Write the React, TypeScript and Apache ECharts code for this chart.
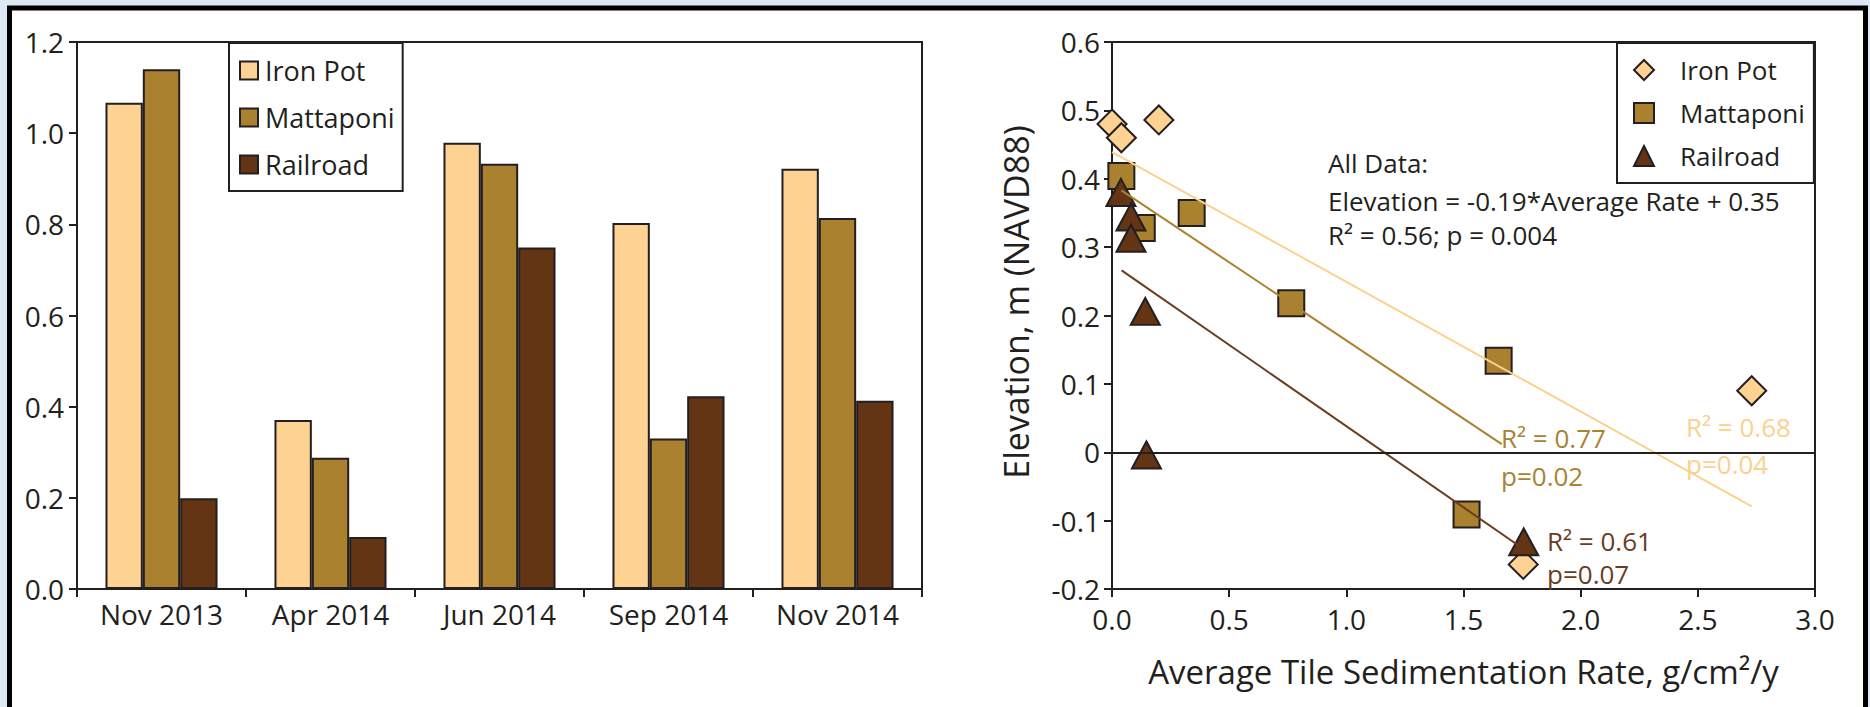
import React, { useEffect, useRef } from "react";
import * as echarts from "echarts";

// ---------- data ----------
const months = ["Nov 2013", "Apr 2014", "Jun 2014", "Sep 2014", "Nov 2014"];
const ironPotBars = [1.067, 0.371, 0.979, 0.803, 0.922];
const mattaponiBars = [1.14, 0.288, 0.933, 0.33, 0.814];
const railroadBars = [0.199, 0.114, 0.749, 0.423, 0.413];

const ironPotPoints = [
  [0.0, 0.48],
  [0.04, 0.46],
  [0.2, 0.486],
  [2.73, 0.09],
  [1.755, -0.164],
];
const mattaponiPoints = [
  [0.04, 0.404],
  [0.127, 0.328],
  [0.34, 0.35],
  [0.765, 0.218],
  [1.65, 0.134],
  [1.513, -0.091],
];
const railroadPoints = [
  [0.038, 0.38],
  [0.081, 0.344],
  [0.081, 0.313],
  [0.142, 0.206],
  [0.147, -0.004],
  [1.757, -0.131],
];

const ironPotFit = [
  [0.0, 0.439],
  [2.73, -0.079],
];
const mattaponiFit = [
  [0.04, 0.383],
  [1.663, 0.012],
];
const railroadFit = [
  [0.041, 0.266],
  [1.733, -0.136],
];

const seriesNames = ["Iron Pot", "Mattaponi", "Railroad"];
const scatterNames = ["Iron Pot ", "Mattaponi ", "Railroad "];

// ---------- styles ----------
const FONT = "'Open Sans', sans-serif";
const INK = "#231f20";
const C_IRON = "#fdd293";
const C_MATT = "#aa812f";
const C_RAIL = "#633514";
const C_IRON_LINE = "#fcd08f";
const C_MATT_LINE = "#a98232";
const C_RAIL_LINE = "#6b3c1d";

export default function App() {
  const ref = useRef<HTMLDivElement>(null);

  useEffect(() => {
    if (!ref.current) return;
    const chart = echarts.init(ref.current, null, { renderer: "svg" });

    const axisLine = { show: true, onZero: false, lineStyle: { color: INK, width: 2 } };
    const axisTick = { show: true, inside: false, length: 8, lineStyle: { color: INK, width: 2 } };
    const label = { fontSize: 28, color: INK, fontFamily: FONT };

    const txt = (text: string, x: number, y: number, color: string, size = 26) => ({
      type: "text",
      x,
      y,
      silent: true,
      z: 50,
      style: {
        text,
        fill: color,
        fontSize: size,
        fontFamily: FONT,
        align: "left",
        verticalAlign: "middle",
      },
    });

    const option: any = {
      animation: false,
      textStyle: { fontFamily: FONT, color: INK },
      grid: [
        { left: 77, top: 42, width: 845, height: 547, show: true, borderColor: INK, borderWidth: 2, containLabel: false },
        { left: 1112, top: 42, width: 703, height: 547, show: true, borderColor: INK, borderWidth: 2, containLabel: false },
      ],
      xAxis: [
        {
          type: "category",
          gridIndex: 0,
          data: months,
          axisLine,
          axisTick,
          axisLabel: { ...label, margin: 11 },
          splitLine: { show: false },
        },
        {
          type: "value",
          gridIndex: 1,
          min: 0,
          max: 3,
          interval: 0.5,
          axisLine,
          axisTick,
          splitLine: { show: false },
          axisLabel: { ...label, margin: 16, formatter: (v: number) => v.toFixed(1) },
          name: "Average Tile Sedimentation Rate, g/cm²/y",
          nameLocation: "middle",
          nameGap: 66,
          nameTextStyle: { fontSize: 33, color: INK, fontFamily: FONT },
        },
      ],
      yAxis: [
        {
          type: "value",
          gridIndex: 0,
          min: 0,
          max: 1.2,
          interval: 0.2,
          axisLine,
          axisTick,
          splitLine: { show: false },
          axisLabel: { ...label, margin: 13, formatter: (v: number) => v.toFixed(1) },
        },
        {
          type: "value",
          gridIndex: 1,
          min: -0.2,
          max: 0.6,
          interval: 0.1,
          axisLine,
          axisTick,
          splitLine: { show: false },
          axisLabel: {
            ...label,
            margin: 12,
            formatter: (v: number) => String(Math.round(v * 10) / 10),
          },
        },
      ],
      legend: [
        {
          orient: "vertical",
          left: 229,
          top: 43,
          padding: [14, 8, 13, 10],
          itemWidth: 18,
          itemHeight: 18,
          itemGap: 20,
          icon: "rect",
          borderColor: INK,
          borderWidth: 2,
          backgroundColor: "#ffffff",
          selectedMode: false,
          data: seriesNames,
          textStyle: { fontSize: 27, color: INK, fontFamily: FONT, padding: [0, 0, 0, 2] },
        },
        {
          orient: "vertical",
          left: 1617,
          top: 43,
          padding: [14, 9, 14, 16],
          itemWidth: 20,
          itemHeight: 20,
          itemGap: 17,
          borderColor: INK,
          borderWidth: 2,
          backgroundColor: "#ffffff",
          selectedMode: false,
          data: scatterNames,
          formatter: (n: string) => n.trim(),
          textStyle: { fontSize: 26, color: INK, fontFamily: FONT, padding: [0, 0, 0, 21] },
        },
      ],
      series: [
        {
          name: seriesNames[0],
          type: "bar",
          xAxisIndex: 0,
          yAxisIndex: 0,
          data: ironPotBars,
          barGap: "0%",
          barCategoryGap: "33.7%",
          itemStyle: { color: C_IRON, borderColor: INK, borderWidth: 2 },
        },
        {
          name: seriesNames[1],
          type: "bar",
          xAxisIndex: 0,
          yAxisIndex: 0,
          data: mattaponiBars,
          barGap: "0%",
          barCategoryGap: "33.7%",
          itemStyle: { color: C_MATT, borderColor: INK, borderWidth: 2 },
        },
        {
          name: seriesNames[2],
          type: "bar",
          xAxisIndex: 0,
          yAxisIndex: 0,
          data: railroadBars,
          barGap: "0%",
          barCategoryGap: "33.7%",
          itemStyle: { color: C_RAIL, borderColor: INK, borderWidth: 2 },
        },
        {
          name: scatterNames[0],
          type: "scatter",
          xAxisIndex: 1,
          yAxisIndex: 1,
          data: ironPotPoints,
          symbol: "diamond",
          symbolSize: [29, 29],
          itemStyle: { color: C_IRON, borderColor: INK, borderWidth: 2, opacity: 1 },
          markLine: {
            silent: true,
            symbol: ["none", "none"],
            label: { show: false },
            lineStyle: { color: INK, width: 2, type: "solid" },
            data: [{ yAxis: 0 }],
          },
        },
        {
          name: scatterNames[1],
          type: "scatter",
          xAxisIndex: 1,
          yAxisIndex: 1,
          data: mattaponiPoints,
          symbol: "rect",
          symbolSize: [26, 26],
          itemStyle: { color: C_MATT, borderColor: INK, borderWidth: 2, opacity: 1 },
        },
        {
          name: scatterNames[2],
          type: "scatter",
          xAxisIndex: 1,
          yAxisIndex: 1,
          data: railroadPoints,
          symbol: "triangle",
          symbolSize: [29, 27],
          itemStyle: { color: C_RAIL, borderColor: INK, borderWidth: 2, opacity: 1 },
        },
        {
          name: "fit-ironpot",
          type: "line",
          xAxisIndex: 1,
          yAxisIndex: 1,
          data: ironPotFit,
          showSymbol: false,
          symbol: "none",
          lineStyle: { color: C_IRON_LINE, width: 2 },
          z: 3,
        },
        {
          name: "fit-mattaponi",
          type: "line",
          xAxisIndex: 1,
          yAxisIndex: 1,
          data: mattaponiFit,
          showSymbol: false,
          symbol: "none",
          lineStyle: { color: C_MATT_LINE, width: 2 },
          z: 3,
        },
        {
          name: "fit-railroad",
          type: "line",
          xAxisIndex: 1,
          yAxisIndex: 1,
          data: railroadFit,
          showSymbol: false,
          symbol: "none",
          lineStyle: { color: C_RAIL_LINE, width: 2 },
          z: 3,
        },
      ],
      graphic: [
        {
          type: "rect",
          silent: true,
          z: -10,
          shape: { x: 9.5, y: 8, width: 1856, height: 760 },
          style: { fill: "#ffffff", stroke: "#000000", lineWidth: 5 },
        },
        {
          type: "text",
          x: 1016,
          y: 302,
          rotation: Math.PI / 2,
          silent: true,
          style: {
            text: "Elevation, m (NAVD88)",
            fill: INK,
            fontSize: 34,
            fontFamily: FONT,
            align: "center",
            verticalAlign: "middle",
          },
        },
        txt("All Data:", 1328, 163, INK, 26),
        txt("Elevation = -0.19*Average Rate + 0.35", 1328, 201, INK, 26),
        txt("R² = 0.56; p = 0.004", 1328, 235, INK, 26),
        txt("R² = 0.77", 1501, 438, C_MATT_LINE),
        txt("p=0.02", 1501, 476, C_MATT_LINE),
        txt("R² = 0.68", 1686, 427, C_IRON_LINE),
        txt("p=0.04", 1686, 464, C_IRON_LINE),
        txt("R² = 0.61", 1547, 541, C_RAIL_LINE),
        txt("p=0.07", 1547, 574, C_RAIL_LINE),
      ],
    };

    chart.setOption(option);
    return () => chart.dispose();
  }, []);

  return (
    <div
      ref={ref}
      style={{
        position: "absolute",
        left: 0,
        top: 0,
        width: 1870,
        height: 707,
        background: "#dfe9f5",
      }}
    />
  );
}
